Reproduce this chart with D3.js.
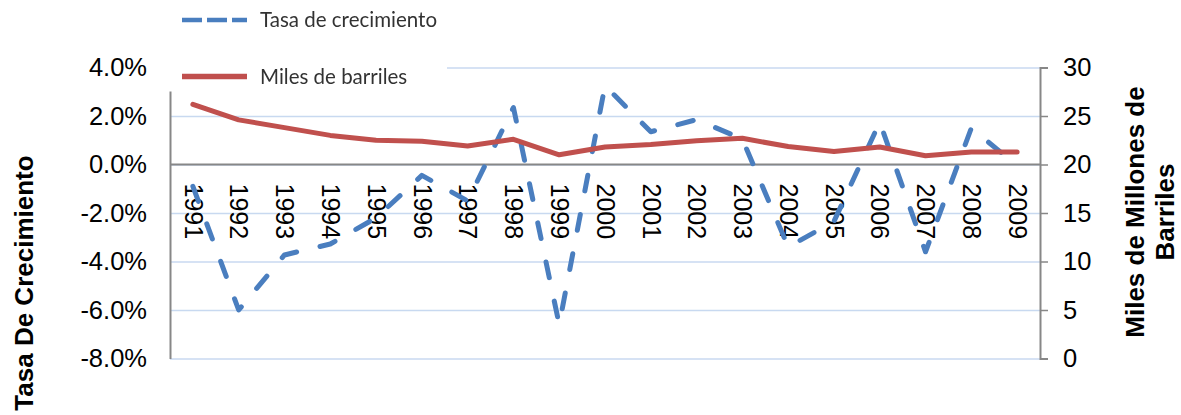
<!DOCTYPE html>
<html>
<head>
<meta charset="utf-8">
<script src="https://cdn.jsdelivr.net/npm/d3@7"></script>
<style>
  html, body { margin: 0; padding: 0; background: #fff; }
  svg { display: block; }
  .tick text { font-family: "Liberation Sans", Arial, sans-serif; fill: #000; }
</style>
</head>
<body>
<svg id="chart" width="1181" height="415"></svg>
<script>
// Years on the category axis
const years = ["1991","1992","1993","1994","1995","1996","1997","1998","1999","2000",
               "2001","2002","2003","2004","2005","2006","2007","2008","2009"];
// Annual growth rate, percent (left axis)
const growthRate = [-0.9, -6.0, -3.73, -3.28, -2.2, -0.45, -1.5, 2.35, -6.6, 3.25,
                    1.35, 1.85, 1.05, -3.4, -2.35, 1.75, -3.6, 1.5, -0.05];
// Reserves, thousands of millions of barrels (right axis)
const barrels = [26.2, 24.6, 23.8, 23.0, 22.5, 22.4, 21.9, 22.6, 21.0, 21.8,
                 22.05, 22.45, 22.7, 21.85, 21.35, 21.8, 20.9, 21.3, 21.3];
// Axis ticks
const leftTicks = [-8, -6, -4, -2, 0, 2, 4];
const rightTicks = [0, 5, 10, 15, 20, 25, 30];
// Legend entries
const legendLabels = ["Tasa de crecimiento", "Miles de barriles"];
const leftTitle = "Tasa De Crecimiento";
const rightTitleLines = ["Miles de Millones de", "Barriles"];

const BLUE = "#4a7ebf", RED = "#c0504d", GRID = "#c8d9f0", AXIS = "#878787";
const plot = { left: 170, right: 1040, top: 67.5, bottom: 358.5 };

const svg = d3.select("#chart");

const x = d3.scalePoint().domain(years).range([plot.left, plot.right]).padding(0.5);
const yL = d3.scaleLinear().domain([-8, 4]).range([plot.bottom, plot.top]);
const yR = d3.scaleLinear().domain([0, 30]).range([plot.bottom, plot.top]);

// Horizontal gridlines
const grid = svg.append("g")
  .attr("transform", `translate(${plot.left},0)`)
  .call(d3.axisLeft(yL).tickValues(leftTicks).tickSize(-(plot.right - plot.left)).tickFormat(""));
grid.select(".domain").remove();
grid.selectAll(".tick line").attr("stroke", GRID).attr("stroke-width", 1.5);

// Left axis
const axL = svg.append("g")
  .attr("transform", `translate(${plot.left},0)`)
  .call(d3.axisLeft(yL).tickValues(leftTicks).tickSize(0).tickPadding(23)
        .tickFormat(d => d.toFixed(1) + "%"));
axL.select(".domain").attr("stroke", AXIS).attr("stroke-width", 2);
axL.selectAll(".tick text").style("font-size", "25.5px");

// Right axis
const axR = svg.append("g")
  .attr("transform", `translate(${plot.right},0)`)
  .call(d3.axisRight(yR).tickValues(rightTicks).tickSizeOuter(0).tickSize(8).tickPadding(15));
axR.select(".domain").attr("stroke", AXIS).attr("stroke-width", 2);
axR.selectAll(".tick line").attr("stroke", AXIS).attr("stroke-width", 1.5);
axR.selectAll(".tick text").style("font-size", "25.5px");

// Category axis along zero
const axX = svg.append("g")
  .attr("transform", `translate(0,${yL(0)})`)
  .call(d3.axisBottom(x).tickSize(0).tickSizeOuter(0));
axX.select(".domain").attr("stroke", AXIS).attr("stroke-width", 2)
  .attr("d", `M${plot.left},0H${plot.right}`);
axX.selectAll(".tick text")
  .style("font-size", "25px")
  .attr("transform", "rotate(90)")
  .attr("x", 19).attr("y", 0).attr("dy", "0.35em")
  .style("text-anchor", "start");

// Growth rate, dashed
svg.append("path")
  .datum(growthRate)
  .attr("fill", "none")
  .attr("stroke", BLUE)
  .attr("stroke-width", 5)
  .attr("stroke-linecap", "round")
  .attr("stroke-linejoin", "round")
  .attr("stroke-dasharray", "16,24")
  .attr("d", d3.line().x((d, i) => x(years[i])).y(d => yL(d)));

// Barrels, solid
svg.append("path")
  .datum(barrels)
  .attr("fill", "none")
  .attr("stroke", RED)
  .attr("stroke-width", 5)
  .attr("stroke-linecap", "round")
  .attr("stroke-linejoin", "round")
  .attr("d", d3.line().x((d, i) => x(years[i])).y(d => yR(d)));

// Axis titles
svg.append("text")
  .attr("transform", "translate(33,283) rotate(-90)")
  .attr("text-anchor", "middle")
  .style("font-family", "'Liberation Sans', Arial, sans-serif")
  .style("font-weight", "bold").style("font-size", "26px")
  .text(leftTitle);

const rt = svg.append("text")
  .attr("transform", "translate(1144,212) rotate(-90)")
  .attr("text-anchor", "middle")
  .style("font-family", "'Liberation Sans', Arial, sans-serif")
  .style("font-weight", "bold").style("font-size", "26px");
rightTitleLines.forEach((t, i) => {
  rt.append("tspan").attr("x", 0).attr("dy", i === 0 ? 0 : 30).text(t);
});

// Legend
const defs = svg.append("defs");
defs.append("filter").attr("id", "soft")
  .append("feGaussianBlur").attr("stdDeviation", 0.6);

const legend = svg.append("g");
legend.append("rect")
  .attr("x", 166).attr("y", 0).attr("width", 281).attr("height", 91.5)
  .attr("fill", "#fff");
const lg = legend.append("g").attr("filter", "url(#soft)");
const legendRows = [
  { y: 20, color: BLUE, dash: "20,5", text: legendLabels[0], width: 4.5 },
  { y: 76.5, color: RED, dash: null, text: legendLabels[1], width: 5.5 }
];
legendRows.forEach(r => {
  lg.append("line")
    .attr("x1", 182).attr("x2", 247).attr("y1", r.y).attr("y2", r.y)
    .attr("stroke", r.color).attr("stroke-width", r.width)
    .attr("stroke-dasharray", r.dash);
  lg.append("text")
    .attr("x", 260).attr("y", r.y + 7)
    .style("font-family", "Lato, 'Open Sans', sans-serif")
    .style("font-size", "20.5px").attr("fill", "#333")
    .text(r.text);
});
</script>
</body>
</html>
